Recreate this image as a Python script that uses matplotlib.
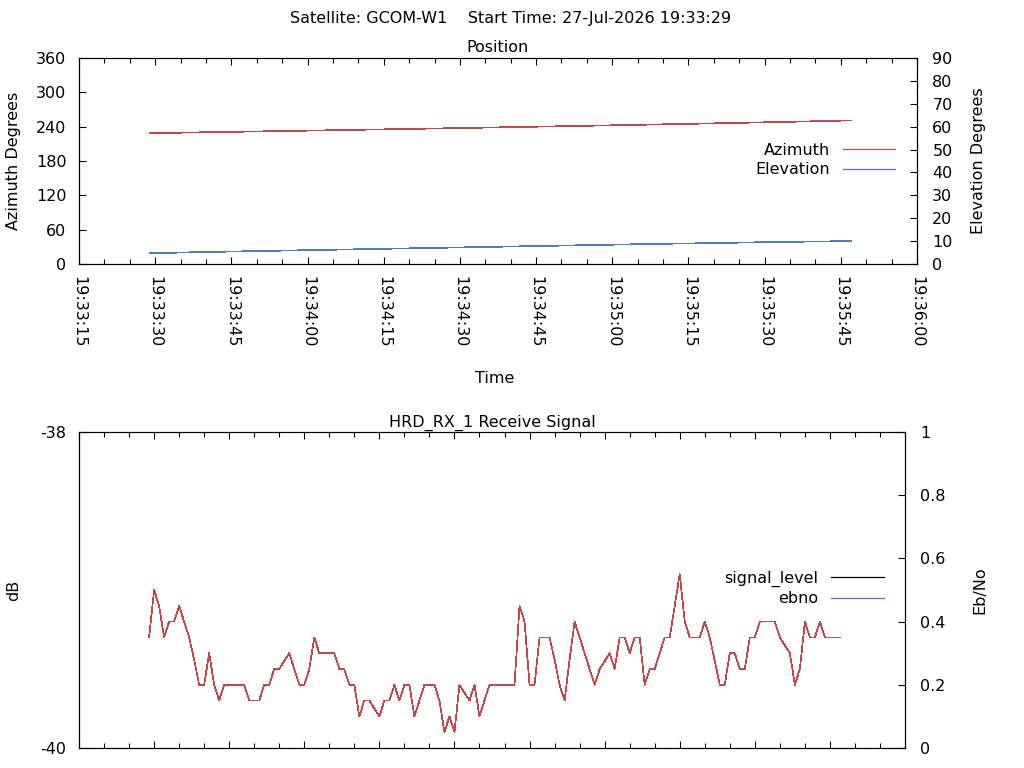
import matplotlib
matplotlib.use('Agg')
import matplotlib.pyplot as plt
import matplotlib.dates as mdates
from matplotlib.lines import Line2D
from datetime import datetime, timedelta

# pass info
satellite = 'GCOM-W1'
start = datetime(2026, 7, 27, 19, 33, 29)
t_min = datetime(2026, 7, 27, 19, 33, 15)
t_max = datetime(2026, 7, 27, 19, 36, 0)

# position samples (seconds after start)
pos_sec = [0, 10, 20, 30, 40, 50, 60, 70, 80, 90, 100, 110, 120, 130, 138]
azimuth = [228.6, 230.1, 231.5, 232.9, 234.4, 235.9, 237.4, 239.0, 240.6,
           242.2, 243.9, 245.6, 247.4, 249.3, 250.9]
elevation = [4.7, 5.2, 5.6, 6.0, 6.4, 6.8, 7.2, 7.6, 8.0, 8.4, 8.8, 9.1,
             9.5, 9.8, 10.0]

# receive signal, one sample per second from start
ebno = [0.35, 0.5, 0.45, 0.35, 0.4, 0.4, 0.45, 0.4, 0.35, 0.28,
        0.2, 0.2, 0.3, 0.2, 0.15, 0.2, 0.2, 0.2, 0.2, 0.2,
        0.15, 0.15, 0.15, 0.2, 0.2, 0.25, 0.25, 0.275, 0.3, 0.25,
        0.2, 0.2, 0.25, 0.35, 0.3, 0.3, 0.3, 0.3, 0.25, 0.25,
        0.2, 0.2, 0.1, 0.15, 0.15, 0.125, 0.1, 0.15, 0.15, 0.2,
        0.15, 0.2, 0.2, 0.1, 0.15, 0.2, 0.2, 0.2, 0.15, 0.05,
        0.1, 0.05, 0.2, 0.175, 0.15, 0.2, 0.1, 0.15, 0.2, 0.2,
        0.2, 0.2, 0.2, 0.2,
        0.45, 0.4, 0.2, 0.2, 0.35, 0.35, 0.35, 0.28, 0.2, 0.15,
        0.28, 0.4, 0.35, 0.3, 0.25, 0.2, 0.25, 0.275, 0.3, 0.25,
        0.35, 0.35, 0.3, 0.35, 0.35, 0.2, 0.25, 0.25, 0.3, 0.35,
        0.35, 0.45, 0.55, 0.4, 0.35, 0.35, 0.35, 0.4, 0.35, 0.275,
        0.2, 0.2, 0.3, 0.3, 0.25, 0.25, 0.35, 0.35, 0.4, 0.4,
        0.4, 0.4, 0.35, 0.325, 0.3, 0.2, 0.25, 0.4, 0.35, 0.35,
        0.4, 0.35, 0.35, 0.35, 0.35]
signal_level = []  # nothing inside -40..-38

pos_t = [start + timedelta(seconds=s) for s in pos_sec]
sig_t = [start + timedelta(seconds=k) for k in range(len(ebno))]

red = '#c8464a'
blue = '#4a7fc4'
fs = 11.5
lw = 0.5
plt.rcParams['font.family'] = 'DejaVu Sans'
plt.rcParams['font.size'] = fs
plt.rcParams['axes.unicode_minus'] = False

fig = plt.figure(figsize=(10.24, 7.68), dpi=100)
fig.text(511 / 1024, 1 - 18 / 768,
         'Satellite: %s    Start Time: %s' % (satellite, start.strftime('%d-%b-%Y %H:%M:%S')),
         ha='center', va='center', fontsize=fs)


def style(ax, axb, labels):
    ax.set_xlim(t_min, t_max)
    ax.xaxis.set_major_locator(mdates.SecondLocator(bysecond=range(0, 60, 15)))
    ax.xaxis.set_minor_locator(mdates.SecondLocator(bysecond=range(0, 60, 5)))
    ax.xaxis.set_major_formatter(mdates.DateFormatter('%H:%M:%S'))
    ax.tick_params(axis='x', which='both', direction='in', top=True,
                   labelbottom=labels, labelrotation=270, pad=9)
    ax.tick_params(axis='x', which='major', length=5, width=0.8)
    ax.tick_params(axis='x', which='minor', length=3.3, width=0.8)
    ax.tick_params(axis='y', direction='in', length=5, width=0.8, pad=9)
    axb.tick_params(axis='y', direction='in', length=5, width=0.8, pad=11)
    for a in (ax, axb):
        for s in a.spines.values():
            s.set_linewidth(0.8)
        a.yaxis.label.set_va('center')


def legend(axb, names, colors, anchor):
    hd = [Line2D([], [], color=c, lw=0.9, label=n) for n, c in zip(names, colors)]
    axb.legend(handles=hd, loc='center right', bbox_to_anchor=anchor,
               frameon=False, markerfirst=False, borderpad=0, borderaxespad=0,
               handlelength=3.3, handletextpad=0.8, labelspacing=0.3)


# top: position
ax1 = fig.add_axes([79 / 1024, 1 - 264 / 768, 838 / 1024, 206 / 768])
ax1b = ax1.twinx()
ax1.plot(pos_t, azimuth, color=red, lw=lw, antialiased=False)
ax1b.plot(pos_t, elevation, color=blue, lw=lw, antialiased=False)
ax1.set_ylim(0, 360)
ax1.set_yticks(range(0, 361, 60))
ax1b.set_ylim(0, 90)
ax1b.set_yticks(range(0, 91, 10))
ax1.set_title('Position', fontsize=fs, pad=4)
ax1.set_ylabel('Azimuth Degrees')
ax1b.set_ylabel('Elevation Degrees')
style(ax1, ax1b, True)
ax1.yaxis.set_label_coords(-0.0776, 0.5)
ax1b.yaxis.set_label_coords(1.073, 0.5)
ax1.set_xlabel('Time')
ax1.xaxis.set_label_coords(0.496, -0.558)
ax1.xaxis.label.set_va('center')
legend(ax1b, ['Azimuth', 'Elevation'], [red, blue], (0.974, 0.505))

# bottom: receive signal
ax2 = fig.add_axes([79 / 1024, 1 - 748 / 768, 826 / 1024, 316 / 768])
ax2b = ax2.twinx()
ax2.plot(sig_t[:len(signal_level)], signal_level, color='black', lw=lw)
ax2b.plot(sig_t, ebno, color=red, lw=lw, antialiased=False)
ax2.set_ylim(-40, -38)
ax2.set_yticks([-40, -38])
ax2b.set_ylim(0, 1)
ax2b.set_yticks([0, 0.2, 0.4, 0.6, 0.8, 1])
ax2b.set_yticklabels(['0', '0.2', '0.4', '0.6', '0.8', '1'])
ax2.set_title('HRD_RX_1 Receive Signal', fontsize=fs, pad=4)
ax2.set_ylabel('dB')
ax2b.set_ylabel('Eb/No')
style(ax2, ax2b, False)
ax2.yaxis.set_label_coords(-0.0787, 0.5)
ax2b.yaxis.set_label_coords(1.091, 0.5)
legend(ax2b, ['signal_level', 'ebno'], ['black', blue], (0.9746, 0.505))

fig.savefig('out.png', dpi=100)
